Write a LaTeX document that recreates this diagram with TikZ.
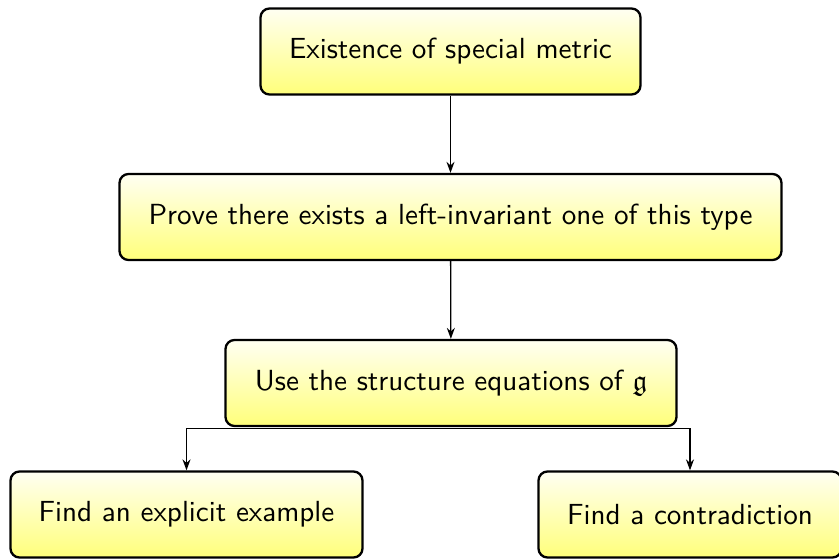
\documentclass[tikz,border=0pt]{standalone}
\usepackage{amssymb}
\usetikzlibrary{arrows.meta}
\newcommand{\bigtxt}[1]{\scalebox{2.91}{\sffamily #1}}
\begin{document}
\begin{tikzpicture}[x=1pt,y=-1pt,
  box/.style={draw=black, line width=2.3pt, rounded corners=9pt,
    top color=yellow!5, bottom color=yellow!52, minimum height=86pt,
    inner sep=0pt},
  conn/.style={line width=1.3pt, -{Stealth[length=11pt,width=8pt]}}]
\useasboundingbox (0,0) rectangle (839,559);
\node[box, minimum width=380pt] (b1) at (450.5,51.5) {\bigtxt{Existence of special metric}};
\node[box, minimum width=662pt] (b2) at (450.5,217) {\bigtxt{Prove there exists a left-invariant one of this type}};
\node[box, minimum width=451pt] (b3) at (451,383) {\bigtxt{Use the structure equations of $\mathfrak{g}$}};
\node[box, minimum width=352pt] (b4) at (186.5,514.5) {\bigtxt{Find an explicit example}};
\node[box, minimum width=303pt] (b5) at (690,514.5) {\bigtxt{Find a contradiction}};
\draw[conn] (b1) -- (b2);
\draw[conn] (b2) -- (b3);
\draw[conn] ([yshift=-1.5pt]b3.south) -| (b4.north);
\draw[conn] ([yshift=-1.5pt]b3.south) -| (b5.north);
\end{tikzpicture}
\end{document}
